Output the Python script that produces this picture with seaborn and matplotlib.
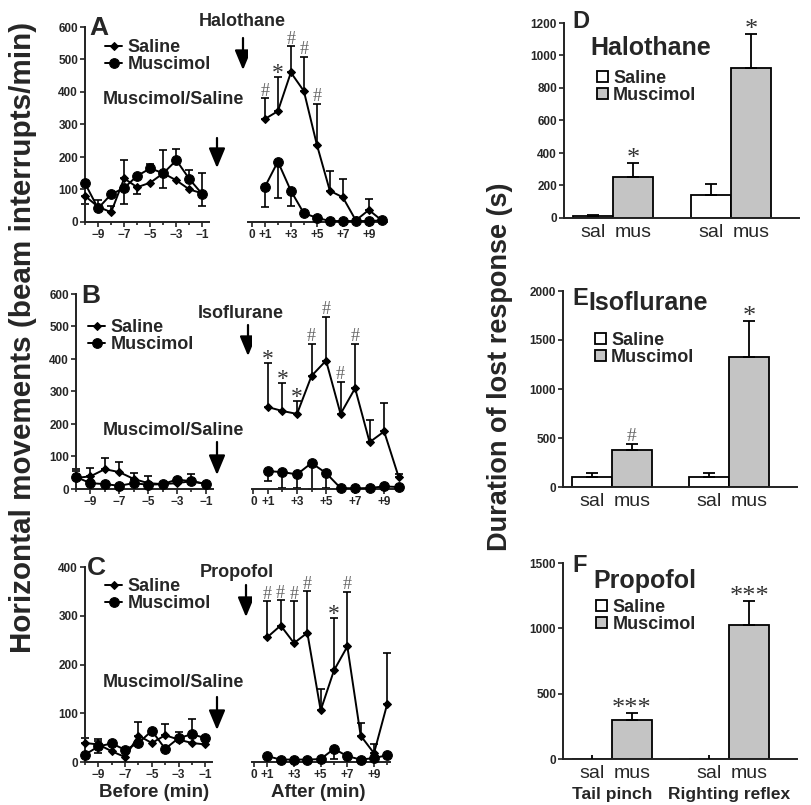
"""Locomotor activity and loss-of-response durations after muscimol vs saline."""

import matplotlib

matplotlib.use("Agg")
import matplotlib.pyplot as plt
import matplotlib.transforms as mtransforms
import numpy as np
import pandas as pd
import seaborn as sns

W, H = 811, 805

before_min = [-10, -9, -8, -7, -6, -5, -4, -3, -2, -1]
after_min = [1, 2, 3, 4, 5, 6, 7, 8, 9, 10]

# Panel A - halothane (beam interrupts/min)
a_sal_before = [80, 47, 30, 134, 107, 121, 150, 128, 100, 88]
a_sal_before_up = [0, 22, 20, 56, 0, 0, 0, 0, 0, 0]
a_sal_before_dn = [25, 0, 0, 0, 20, 0, 0, 0, 0, 38]
a_mus_before = [119, 42, 85, 105, 142, 165, 150, 190, 132, 85]
a_mus_before_up = [0, 0, 0, 0, 0, 12, 72, 35, 28, 65]
a_mus_before_dn = [0, 0, 0, 50, 0, 0, 45, 0, 0, 0]
a_sal_after = [317, 341, 460, 403, 238, 96, 76, 5, 37, 5]
a_sal_after_up = [63, 104, 80, 106, 125, 62, 55, 0, 33, 0]
a_mus_after = [108, 186, 96, 27, 13, 3, 3, 3, 3, 5]
a_mus_after_dn = [63, 111, 48, 0, 0, 0, 0, 0, 0, 0]
a_marks = ["#", "*", "#", "#", "#", "", "", "", "", ""]

# Panel B - isoflurane
b_sal_before = [34, 39, 61, 52, 31, 18, 15, 18, 24, 16]
b_sal_before_up = [26, 26, 34, 30, 18, 23, 0, 0, 22, 0]
b_sal_before_dn = [0, 0, 0, 0, 0, 0, 0, 0, 0, 0]
b_mus_before = [37, 18, 15, 10, 18, 13, 15, 29, 24, 15]
b_mus_before_up = [18, 0, 0, 0, 0, 0, 0, 0, 0, 0]
b_mus_before_dn = [0, 0, 0, 0, 0, 0, 0, 0, 0, 0]
b_sal_after = [252, 240, 231, 348, 395, 231, 310, 144, 177, 37]
b_sal_after_up = [137, 85, 41, 98, 135, 99, 136, 67, 87, 10]
b_mus_after = [55, 52, 45, 80, 49, 3, 2, 3, 8, 6]
b_mus_after_dn = [31, 49, 42, 80, 46, 0, 0, 0, 0, 0]
b_marks = ["*", "*", "*", "#", "#", "#", "#", "", "", ""]

# Panel C - propofol
c_sal_before = [39, 36, 22, 10, 54, 39, 55, 46, 39, 36]
c_sal_before_up = [10, 12, 0, 0, 28, 0, 23, 15, 0, 0]
c_sal_before_dn = [0, 0, 0, 0, 0, 0, 0, 0, 0, 0]
c_mus_before = [15, 32, 38, 25, 39, 64, 27, 49, 57, 49]
c_mus_before_up = [0, 12, 0, 0, 0, 0, 0, 0, 31, 0]
c_mus_before_dn = [0, 14, 0, 0, 0, 0, 0, 0, 0, 0]
c_sal_after = [256, 280, 244, 265, 106, 188, 237, 54, 18, 120]
c_sal_after_up = [74, 52, 86, 85, 44, 108, 112, 25, 18, 104]
c_mus_after = [12, 5, 5, 5, 6, 27, 12, 5, 8, 14]
c_mus_after_dn = [0, 0, 0, 0, 0, 21, 0, 0, 0, 0]
c_marks = ["#", "#", "#", "#", "", "*", "#", "", "", ""]

# Panels D-F - duration of lost response (s)
bar_tests = ["Tail pinch", "Righting reflex"]
d_sal = [10, 143]
d_sal_err = [8, 65]
d_mus = [250, 920]
d_mus_err = [87, 210]
d_marks = ["*", "*"]
e_sal = [100, 100]
e_sal_err = [45, 45]
e_mus = [375, 1329]
e_mus_err = [65, 368]
e_marks = ["#", "*"]
f_sal = [0, 0]
f_sal_err = [30, 30]
f_mus = [295, 1025]
f_mus_err = [56, 185]
f_marks = ["***", "***"]

SPINE = "#222222"


def fig_box(x0, y0, x1, y1):
    """Pixel box (top-left origin) to figure-fraction rect."""
    return [x0 / W, 1 - y1 / H, (x1 - x0) / W, (y1 - y0) / H]


def fpt(x, y):
    return (x / W, 1 - y / H)


def style_axes(ax):
    sns.despine(ax=ax)
    for side in ("left", "bottom"):
        ax.spines[side].set_color(SPINE)
        ax.spines[side].set_linewidth(1.4)
    ax.tick_params(which="both", direction="out", color=SPINE, width=1.2,
                   labelsize=8.5, pad=1.5)
    ax.tick_params(which="major", length=3.5)
    ax.tick_params(which="minor", length=2.5)
    ax.set_xlabel("")
    ax.set_ylabel("")


def mark_text(ax, x, y, mark, size_hash=13, size_star=17):
    if mark == "#":
        ax.annotate(mark, (x, y), xytext=(0, -1), textcoords="offset points",
                    ha="center", va="bottom", fontsize=size_hash,
                    family="Liberation Serif", weight="normal", color="#666666")
    else:
        ax.annotate(mark, (x, y), xytext=(0, -5), textcoords="offset points",
                    ha="center", va="bottom", fontsize=size_star,
                    family="Liberation Serif", weight="normal", color="#333333")


def draw_series(ax, x, y, up, dn, marker, ms, marks=None):
    sns.lineplot(x=x, y=y, ax=ax, color="black", lw=1.4, marker=marker,
                 markersize=ms, markeredgecolor="black", markerfacecolor="black",
                 errorbar=None, clip_on=False, zorder=3)
    line = ax.lines[-1]
    x = np.asarray(x)
    y = np.asarray(y)
    for err, sign in ((np.asarray(up), 1), (np.asarray(dn), -1)):
        m = err > 0
        if m.any():
            zeros = np.zeros(m.sum())
            yerr = [zeros, err[m]] if sign > 0 else [err[m], zeros]
            ax.errorbar(x[m], y[m], yerr=yerr, fmt="none", ecolor="black",
                        elinewidth=1.2, capsize=3, capthick=1.2, zorder=2,
                        clip_on=False)
    if marks is not None:
        for xi, yi, ei, mk in zip(x, y, up, marks):
            if mk:
                mark_text(ax, xi, yi + ei, mk)
    return line


def line_row(fig, letter, drug, ymax, ystep, left_box, right_box, right_xlim,
             sal_b, sal_b_up, sal_b_dn, mus_b, mus_b_up, mus_b_dn,
             sal_a, sal_a_up, mus_a, mus_a_dn, marks,
             legend_xy, letter_xy, drug_xy, drug_arrow, ms_xy, ms_arrow):
    axl = fig.add_axes(fig_box(*left_box))
    axr = fig.add_axes(fig_box(*right_box))
    zeros = [0] * len(after_min)

    sal_line = draw_series(axl, before_min, sal_b, sal_b_up, sal_b_dn, "D", 4)
    mus_line = draw_series(axl, before_min, mus_b, mus_b_up, mus_b_dn, "o", 7)
    draw_series(axr, after_min, sal_a, sal_a_up, zeros, "D", 4, marks)
    draw_series(axr, after_min, mus_a, zeros, mus_a_dn, "o", 7)

    for ax in (axl, axr):
        style_axes(ax)
        ax.set_ylim(0, ymax)
        ax.set_yticks(np.arange(0, ymax + 1, ystep))

    axl.set_xlim(-10, -0.5)
    axl.set_xticks([-9, -7, -5, -3, -1])
    axl.set_xticks(before_min, minor=True)
    axr.set_xlim(*right_xlim)
    axr.set_xticks([0, 1, 3, 5, 7, 9], ["0", "+1", "+3", "+5", "+7", "+9"])
    axr.set_xticks(after_min, minor=True)
    axr.spines["left"].set_visible(False)
    axr.tick_params(axis="y", which="both", left=False, labelleft=False)

    axl.legend([sal_line, mus_line], ["Saline", "Muscimol"], loc="upper left",
               bbox_to_anchor=fpt(*legend_xy), bbox_transform=fig.transFigure,
               frameon=False, handlelength=0.95, handletextpad=0.3,
               labelspacing=0.0, borderpad=0, borderaxespad=0,
               prop={"weight": "bold", "size": 13})

    fig.text(*fpt(*letter_xy), letter, fontsize=19, weight="bold",
             ha="left", va="baseline")
    fig.text(*fpt(*drug_xy), drug, fontsize=13, weight="bold",
             ha="center", va="center")
    fig.text(*fpt(*ms_xy), "Muscimol/Saline", fontsize=13, weight="bold",
             ha="center", va="center")
    for x, y0, y1 in (drug_arrow, ms_arrow):
        axl.annotate("", xy=fpt(x, y1), xytext=fpt(x, y0),
                     xycoords="figure fraction", textcoords="figure fraction",
                     arrowprops=dict(arrowstyle="-|>,head_length=0.6,head_width=0.25",
                                     mutation_scale=20, color="black", lw=1.6,
                                     shrinkA=0, shrinkB=0))
    return axl, axr


def bar_panel(fig, box, letter, drug, ymax, ystep, sal, sal_err, mus, mus_err,
              marks, letter_xy, drug_xy, legend_xy, show_tests=False):
    ax = fig.add_axes(fig_box(*box))
    df = pd.DataFrame({
        "test": bar_tests * 2,
        "group": ["Saline"] * len(sal) + ["Muscimol"] * len(mus),
        "value": sal + mus,
    })
    sns.barplot(data=df, x="test", y="value", hue="group", order=bar_tests,
                hue_order=["Saline", "Muscimol"],
                palette={"Saline": "white", "Muscimol": "#c4c4c4"},
                edgecolor="black", linewidth=1.3, width=0.68, gap=0,
                errorbar=None, legend=False, ax=ax)
    conts = list(ax.containers)[:2]
    centers = []
    for cont, errs, mks in zip(conts, [sal_err, mus_err], [["", ""], marks]):
        for bar, e, mk in zip(cont, errs, mks):
            cx = bar.get_x() + bar.get_width() / 2
            h = bar.get_height()
            centers.append(cx)
            cap = 4 if h > 0 else 0
            ax.errorbar([cx], [h], yerr=[[0], [e]], fmt="none", ecolor="black",
                        elinewidth=1.3, capsize=cap, capthick=1.3, zorder=3)
            if mk:
                mark_text(ax, cx, h + e, mk, size_hash=14, size_star=19)
    style_axes(ax)
    ax.set_ylim(0, ymax)
    ax.set_yticks(np.arange(0, ymax + 1, ystep))
    ax.set_xlim(-0.415, 1.576)
    centers = sorted(centers)
    ax.set_xticks(centers, ["sal", "mus"] * len(bar_tests))
    for lbl in ax.get_xticklabels():
        lbl.set_fontweight("normal")
        lbl.set_fontsize(14)
    ax.tick_params(axis="x", length=0, pad=4)

    ax.legend(conts, ["Saline", "Muscimol"], loc="upper left",
              bbox_to_anchor=fpt(*legend_xy), bbox_transform=fig.transFigure,
              frameon=False, handlelength=0.6, handleheight=0.6,
              handletextpad=0.3, labelspacing=0.0, borderpad=0,
              borderaxespad=0, prop={"weight": "bold", "size": 13})
    fig.text(*fpt(*letter_xy), letter, fontsize=17, weight="bold",
             ha="left", va="baseline")
    fig.text(*fpt(*drug_xy), drug, fontsize=18, weight="bold",
             ha="left", va="center")
    if show_tests:
        trans = mtransforms.blended_transform_factory(ax.transData, fig.transFigure)
        for i, name in enumerate(bar_tests):
            ax.text(i, 1 - 794 / H, name, transform=trans, ha="center",
                    va="center", fontsize=12.5, weight="bold")
    return ax


def main():
    sns.set_theme(style="ticks")
    plt.rcParams["font.family"] = ["Liberation Sans", "DejaVu Sans"]
    plt.rcParams["font.weight"] = "bold"

    fig = plt.figure(figsize=(W / 100, H / 100), dpi=100)

    line_row(fig, "A", "Halothane", 600, 100,
             (85, 27, 209, 222), (248, 27, 387, 222), (-0.3, 10.4),
             a_sal_before, a_sal_before_up, a_sal_before_dn,
             a_mus_before, a_mus_before_up, a_mus_before_dn,
             a_sal_after, a_sal_after_up, a_mus_after, a_mus_after_dn, a_marks,
             legend_xy=(105, 39), letter_xy=(89, 35), drug_xy=(242, 22),
             drug_arrow=(243, 38, 70), ms_xy=(173, 100), ms_arrow=(217, 138, 168))
    line_row(fig, "B", "Isoflurane", 600, 100,
             (76, 294, 213, 489), (252, 294, 403, 489), (-0.1, 10.3),
             b_sal_before, b_sal_before_up, b_sal_before_dn,
             b_mus_before, b_mus_before_up, b_mus_before_dn,
             b_sal_after, b_sal_after_up, b_mus_after, b_mus_after_dn, b_marks,
             legend_xy=(88, 319), letter_xy=(81, 303), drug_xy=(241, 313),
             drug_arrow=(248, 325, 356), ms_xy=(173, 430), ms_arrow=(217, 442, 475))
    line_row(fig, "C", "Propofol", 400, 100,
             (85, 567, 212, 762), (252, 567, 390, 762), (-0.15, 10.2),
             c_sal_before, c_sal_before_up, c_sal_before_dn,
             c_mus_before, c_mus_before_up, c_mus_before_dn,
             c_sal_after, c_sal_after_up, c_mus_after, c_mus_after_dn, c_marks,
             legend_xy=(105, 578), letter_xy=(87, 575), drug_xy=(237, 572),
             drug_arrow=(246, 585, 617), ms_xy=(173, 682), ms_arrow=(217, 697, 730))

    fig.text(*fpt(154, 792), "Before (min)", fontsize=13.5, weight="bold",
             ha="center", va="center")
    fig.text(*fpt(318, 792), "After (min)", fontsize=13.5, weight="bold",
             ha="center", va="center")
    fig.text(*fpt(23, 337), "Horizontal movements (beam interrupts/min)",
             rotation=90, fontsize=21.3, weight="bold", ha="center", va="center")

    bar_panel(fig, (564, 23, 799, 218), "D", "Halothane", 1200, 200,
              d_sal, d_sal_err, d_mus, d_mus_err, d_marks,
              letter_xy=(572, 28), drug_xy=(590, 48), legend_xy=(597, 70))
    bar_panel(fig, (563, 291, 797, 487), "E", "Isoflurane", 2000, 500,
              e_sal, e_sal_err, e_mus, e_mus_err, e_marks,
              letter_xy=(572, 305), drug_xy=(588, 303), legend_xy=(595, 332))
    bar_panel(fig, (563, 563, 797, 759), "F", "Propofol", 1500, 500,
              f_sal, f_sal_err, f_mus, f_mus_err, f_marks,
              letter_xy=(572, 572), drug_xy=(593, 581), legend_xy=(596, 599),
              show_tests=True)
    fig.text(*fpt(500, 367), "Duration of lost response (s)", rotation=90,
             fontsize=19.5, weight="bold", ha="center", va="center")

    fig.savefig("out.png", dpi=100)
    plt.close(fig)


if __name__ == "__main__":
    main()
